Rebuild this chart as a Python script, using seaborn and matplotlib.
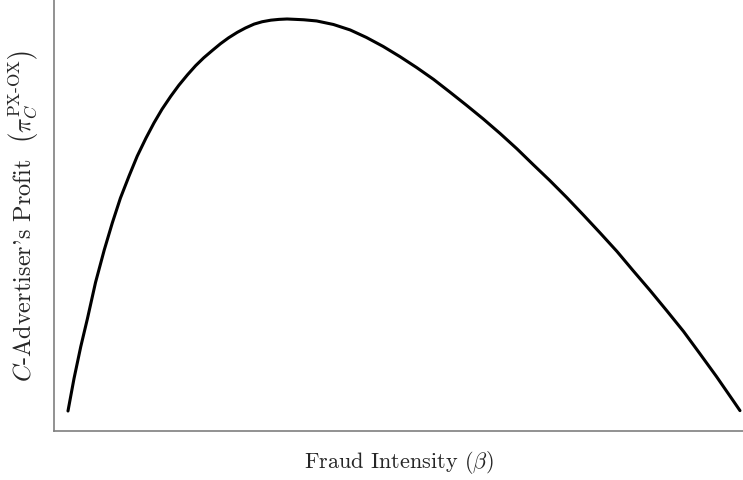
import numpy as np
import pandas as pd
import matplotlib
matplotlib.use("Agg")
import matplotlib.pyplot as plt
import seaborn as sns

# curve, both axes in percent of their range
beta = [0.0, 0.9, 1.9, 2.9, 4.1, 5.4, 6.6, 7.8, 9.1, 10.3,
        11.6, 12.8, 14.0, 15.3, 16.5, 17.8, 19.0, 20.2, 21.5, 22.7,
        23.9, 25.2, 26.4, 27.7, 28.9, 30.2, 31.4, 32.6, 33.9, 35.1,
        37.0, 39.5, 42.0, 44.4, 46.9, 49.4, 51.9, 54.4, 56.8, 59.3,
        61.8, 64.3, 66.8, 69.2, 71.7, 74.2, 76.7, 79.2, 81.7, 84.1,
        86.6, 89.1, 91.6, 94.0, 96.5, 99.0, 100.0]
profit = [0.0, 8.3, 16.4, 23.6, 32.8, 41.1, 48.0, 54.3, 60.0, 65.0,
          69.6, 73.5, 77.0, 80.3, 83.1, 85.8, 88.1, 90.1, 92.0, 93.7,
          95.2, 96.6, 97.7, 98.7, 99.3, 99.7, 99.9, 100.0, 99.9, 99.8,
          99.5, 98.6, 97.2, 95.3, 93.0, 90.4, 87.6, 84.6, 81.4, 78.0,
          74.5, 70.8, 66.9, 62.9, 58.8, 54.5, 50.0, 45.4, 40.7, 35.8,
          30.8, 25.6, 20.3, 14.7, 8.8, 2.6, 0.1]

df = pd.DataFrame({"beta": beta, "profit": profit})

sns.set_style("white")
plt.rcParams["font.family"] = "serif"
plt.rcParams["font.serif"] = ["cmr10"]
plt.rcParams["mathtext.fontset"] = "cm"
plt.rcParams["axes.unicode_minus"] = False
plt.rcParams["axes.formatter.use_mathtext"] = True

fig = plt.figure(figsize=(7.43, 4.81), dpi=100)
ax = fig.add_axes([54 / 743, (481 - 432) / 481, (743 - 54) / 743, 432 / 481])

sns.lineplot(data=df, x="beta", y="profit", color="black", linewidth=2.2, ax=ax)

ax.set_xlim(-2.08, 100.45)
ax.set_ylim(-5.1, 105.1)
ax.set_xticks([])
ax.set_yticks([])
sns.despine(ax=ax)
for s in ["left", "bottom"]:
    ax.spines[s].set_color("#7f7f7f")
    ax.spines[s].set_linewidth(1.2)

ax.set_xlabel(r"Fraud Intensity $(\beta)$", fontsize=16, labelpad=12)
ax.set_ylabel(r"$C$-Advertiser's Profit  $\left(\pi_C^{\mathrm{PX}\text{-}\mathrm{OX}}\right)$",
              fontsize=17.5, labelpad=10)

fig.savefig("out.png", dpi=100)
